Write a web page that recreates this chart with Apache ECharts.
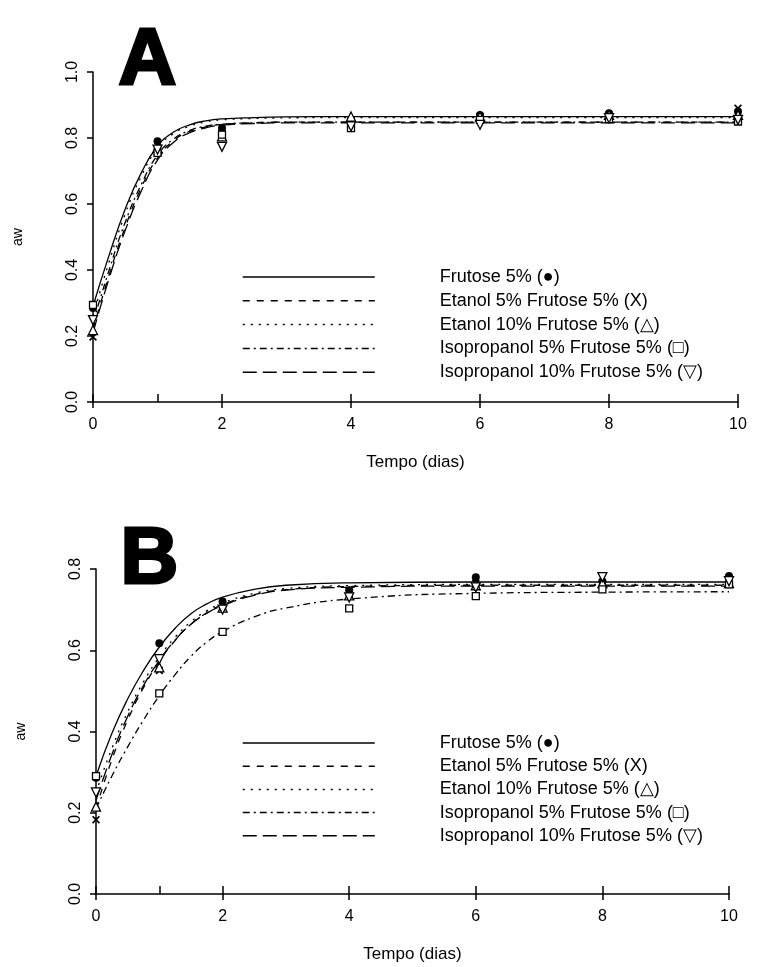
<!DOCTYPE html>
<html><head><meta charset="utf-8">
<script src="https://cdn.jsdelivr.net/npm/echarts@6/dist/echarts.min.js"></script>
<style>html,body{margin:0;padding:0;background:#fff}#c{width:773px;height:967px}</style>
</head><body><div id="c"></div>
<script>
// ---------- data ----------
const names = ['Frutose 5% (●)', 'Etanol 5% Frutose 5% (X)', 'Etanol 10% Frutose 5% (△)', 'Isopropanol 5% Frutose 5% (□)', 'Isopropanol 10% Frutose 5% (▽)'];
const tObs = [0, 1, 2, 4, 6, 8, 10];
const tFit = [0, 0.25, 0.5, 0.75, 1, 1.25, 1.5, 1.75, 2, 2.5, 3, 4, 6, 8, 10];
const xTicksA = [0, 2, 4, 6, 8, 10];
// Panel A observed
const aFrut   = [0.285, 0.79, 0.83, 0.855, 0.87, 0.875, 0.88];
const aEt5    = [0.197, 0.76, 0.815, 0.85, 0.865, 0.87, 0.89];
const aEt10   = [0.218, 0.77, 0.805, 0.865, 0.865, 0.87, 0.87];
const aIso5   = [0.294, 0.755, 0.81, 0.83, 0.855, 0.857, 0.85];
const aIso10  = [0.248, 0.765, 0.773, 0.835, 0.84, 0.86, 0.855];
// Panel A fitted curves
const aFrutFit  = [0.29, 0.445, 0.585, 0.695, 0.775, 0.818, 0.840, 0.852, 0.858, 0.862, 0.864, 0.865, 0.865, 0.865, 0.865];
const aEt5Fit   = [0.22, 0.385, 0.530, 0.650, 0.740, 0.792, 0.820, 0.834, 0.841, 0.846, 0.848, 0.848, 0.848, 0.848, 0.848];
const aEt10Fit  = [0.26, 0.425, 0.570, 0.685, 0.768, 0.814, 0.836, 0.849, 0.855, 0.859, 0.861, 0.862, 0.862, 0.862, 0.862];
const aIso5Fit  = [0.24, 0.400, 0.545, 0.660, 0.748, 0.797, 0.823, 0.836, 0.842, 0.846, 0.848, 0.848, 0.848, 0.848, 0.848];
const aIso10Fit = [0.21, 0.375, 0.520, 0.640, 0.733, 0.787, 0.816, 0.831, 0.839, 0.844, 0.846, 0.846, 0.846, 0.846, 0.846];
// Panel B observed
const bFrut   = [0.286, 0.617, 0.72, 0.748, 0.78, 0.77, 0.783];
const bEt5    = [0.183, 0.55, 0.71, 0.745, 0.765, 0.765, 0.77];
const bEt10   = [0.215, 0.558, 0.705, 0.735, 0.76, 0.765, 0.765];
const bIso5   = [0.29, 0.494, 0.645, 0.703, 0.733, 0.75, 0.762];
const bIso10  = [0.25, 0.578, 0.70, 0.73, 0.755, 0.78, 0.77];
// Panel B fitted curves
const bFrutFit  = [0.29, 0.395, 0.480, 0.550, 0.608, 0.654, 0.690, 0.714, 0.731, 0.750, 0.760, 0.766, 0.768, 0.768, 0.768];
const bEt5Fit   = [0.21, 0.330, 0.428, 0.508, 0.572, 0.624, 0.664, 0.692, 0.712, 0.737, 0.749, 0.757, 0.760, 0.760, 0.760];
const bEt10Fit  = [0.25, 0.358, 0.448, 0.522, 0.583, 0.632, 0.670, 0.697, 0.716, 0.740, 0.752, 0.759, 0.762, 0.762, 0.762];
const bIso5Fit  = [0.21, 0.290, 0.362, 0.428, 0.488, 0.540, 0.585, 0.620, 0.646, 0.682, 0.704, 0.726, 0.740, 0.743, 0.744];
const bIso10Fit = [0.23, 0.343, 0.437, 0.513, 0.575, 0.625, 0.664, 0.691, 0.710, 0.735, 0.748, 0.755, 0.758, 0.758, 0.758];

// ---------- styles ----------
const FONT = 'Liberation Sans, Arial, sans-serif';
const dashes = ['solid', [7, 7], [2, 6], [7, 4, 2, 4], [14, 6]];
const X_PATH = 'path://M0,1.5L1.5,0L5,3.5L8.5,0L10,1.5L6.5,5L10,8.5L8.5,10L5,6.5L1.5,10L0,8.5L3.5,5Z';
const markers = [
  {symbol: 'circle', size: 8, fill: '#000', rot: 0},
  {symbol: X_PATH, size: 8, fill: '#000', rot: 0},
  {symbol: 'triangle', size: 9, fill: '#fff', rot: 0},
  {symbol: 'rect', size: 7, fill: '#fff', rot: 0},
  {symbol: 'triangle', size: 9, fill: '#fff', rot: 180}
];
const obsA = [aFrut, aEt5, aEt10, aIso5, aIso10];
const fitA = [aFrutFit, aEt5Fit, aEt10Fit, aIso5Fit, aIso10Fit];
const obsB = [bFrut, bEt5, bEt10, bIso5, bIso10];
const fitB = [bFrutFit, bEt5Fit, bEt10Fit, bIso5Fit, bIso10Fit];

function pairs(xs, ys) { return xs.map((x, i) => [x, ys[i]]); }

function panelSeries(obs, fit, xi, yi, tag) {
  const s = [];
  fit.forEach((f, i) => {
    s.push({
      type: 'line', name: names[i], xAxisIndex: xi, yAxisIndex: yi,
      data: pairs(tFit, f), smooth: 0.5, symbol: 'none', showSymbol: false,
      itemStyle: {color: '#000'},
      lineStyle: {color: '#000', width: 1.3, type: dashes[i]}, z: 2, silent: true
    });
  });
  obs.forEach((o, i) => {
    const m = markers[i];
    s.push({
      type: 'scatter', name: tag + i, xAxisIndex: xi, yAxisIndex: yi,
      data: pairs(tObs, o), symbol: m.symbol, symbolSize: m.size, symbolRotate: m.rot,
      itemStyle: {color: m.fill, borderColor: '#000', borderWidth: m.fill === '#fff' ? 1.3 : 0, opacity: 1},
      z: 4, silent: true
    });
  });
  return s;
}

function xAxes(gi) {
  return [
    {gridIndex: gi, type: 'value', min: 0, max: 10, interval: 2, position: 'bottom',
     name: 'Tempo (dias)', nameLocation: 'middle', nameGap: 52,
     nameTextStyle: {fontFamily: FONT, fontSize: 17, color: '#000'},
     axisLine: {lineStyle: {color: '#000', width: 1.5}},
     axisTick: {inside: true, length: 8, customValues: [0, 1, 2, 4, 6, 8, 10], lineStyle: {color: '#000', width: 1.5}},
     axisLabel: {margin: 15, fontFamily: FONT, fontSize: 16, color: '#000', customValues: xTicksA},
     splitLine: {show: false}},
    {gridIndex: gi, type: 'value', min: 0, max: 10, interval: 2, position: 'bottom',
     axisLine: {show: false},
     axisTick: {inside: false, length: 6, customValues: xTicksA, lineStyle: {color: '#000', width: 1.5}},
     axisLabel: {show: false}, splitLine: {show: false}}
  ];
}

function yAxis(gi, max) {
  return {gridIndex: gi, type: 'value', min: 0, max: max, interval: 0.2,
    name: 'aw', nameLocation: 'middle', nameGap: 68, nameRotate: 90,
    nameTextStyle: {fontFamily: FONT, fontSize: 14, color: '#000'},
    axisLine: {show: true, lineStyle: {color: '#000', width: 1.5}},
    axisTick: {show: true, length: 6, lineStyle: {color: '#000', width: 1.5}},
    axisLabel: {rotate: 90, margin: 12, fontFamily: FONT, fontSize: 16, color: '#000',
      formatter: v => v.toFixed(1)},
    splitLine: {show: false}};
}

function legend(top, gap) {
  return {data: names, orient: 'vertical', left: 242, top: top, padding: 0,
    itemWidth: 132, itemHeight: 14, itemGap: gap, selectedMode: false,
    itemStyle: {opacity: 0},
    lineStyle: {color: '#000', width: 1.5},
    textStyle: {fontFamily: FONT, fontSize: 18, color: '#000', padding: [0, 0, 0, 60]}};
}

const option = {
  animation: false,
  backgroundColor: '#fff',
  grid: [
    {left: 93, top: 72, width: 645, height: 330},
    {left: 96, top: 569, width: 633, height: 325}
  ],
  xAxis: [...xAxes(0), ...xAxes(1)],
  yAxis: [yAxis(0, 1.0), yAxis(1, 0.8)],
  legend: [legend(268, 5.8), legend(734, 5.2)],
  graphic: [
    {type: 'text', left: 117, top: 20, style: {text: 'A', fontFamily: FONT, fontWeight: 'bold', fontSize: 80, fill: '#000', stroke: '#000', lineWidth: 3}},
    {type: 'text', left: 119, top: 519, style: {text: 'B', fontFamily: FONT, fontWeight: 'bold', fontSize: 80, fill: '#000', stroke: '#000', lineWidth: 3}}
  ],
  series: [...panelSeries(obsA, fitA, 0, 0, 'a'), ...panelSeries(obsB, fitB, 2, 1, 'b')]
};
echarts.init(document.getElementById('c')).setOption(option);
</script></body></html>
